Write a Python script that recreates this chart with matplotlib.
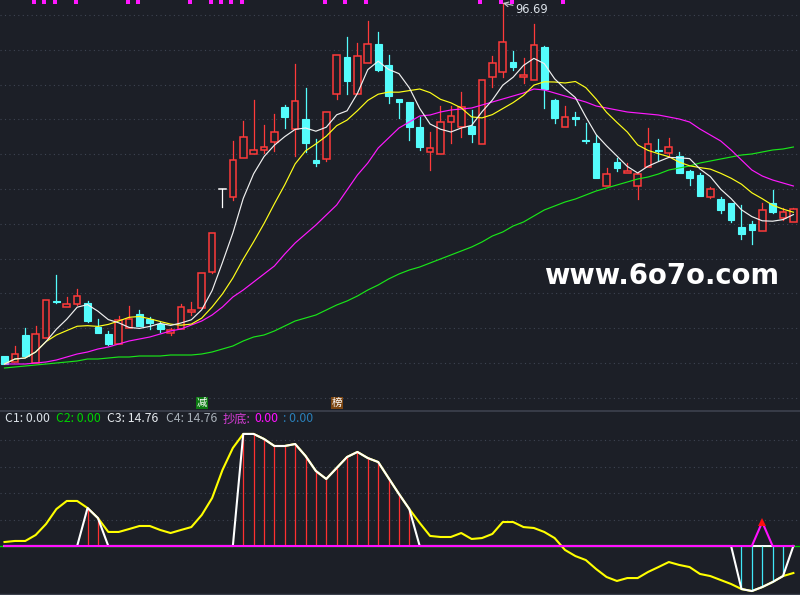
import numpy as np
import pandas as pd
import matplotlib
matplotlib.use("Agg")
import matplotlib.pyplot as plt
from matplotlib.lines import Line2D

# ---------------- data (price units) ----------------
open_ = [26.1, 24.9, 30.3, 24.7, 29.7, 37.1, 35.9, 36.5, 36.7, 31.9,
         30.5, 28.5, 31.7, 34.5, 33.5, 32.5, 30.7, 31.5, 34.9, 35.7,
         42.9, 59.5, 57.9, 65.7, 66.5, 67.3, 68.9, 75.9, 71.5, 73.5,
         65.3, 65.5, 78.5, 85.9, 78.5, 84.7, 88.5, 84.3, 77.5, 76.9,
         71.9, 66.9, 66.5, 72.9, 71.9, 72.1, 68.5, 81.9, 82.9, 84.9,
         81.9, 81.3, 87.9, 77.3, 71.9, 73.9, 69.3, 68.7, 60.1, 64.9,
         62.7, 60.1, 63.9, 67.3, 66.7, 66.1, 63.1, 62.3, 57.9, 57.5,
         56.7, 51.9, 52.5, 51.1, 56.7, 53.7, 52.9]
close = [24.5, 26.5, 26.1, 30.5, 37.3, 36.9, 36.5, 38.1, 33.1, 30.7,
         28.5, 33.3, 33.5, 32.1, 32.7, 31.5, 31.3, 35.9, 35.3, 42.7,
         50.7, 59.5, 65.3, 69.9, 67.3, 67.9, 70.9, 73.9, 77.1, 68.7,
         64.7, 74.9, 86.3, 81.1, 86.1, 88.5, 83.3, 78.1, 76.9, 71.9,
         67.9, 67.7, 72.9, 74.1, 75.9, 70.5, 81.3, 84.7, 88.9, 83.9,
         82.3, 88.3, 79.5, 73.7, 73.9, 73.5, 69.1, 61.7, 62.5, 63.7,
         63.1, 62.5, 68.5, 67.1, 67.9, 62.7, 61.7, 58.1, 59.5, 55.3,
         53.3, 50.5, 51.3, 55.3, 54.9, 54.9, 55.5]
high = [26.1, 28.1, 31.7, 32.1, 37.3, 42.3, 37.9, 39.5, 37.1, 33.5,
        31.1, 34.1, 36.1, 35.3, 33.9, 32.9, 31.7, 36.5, 36.9, 42.7,
        50.7, 59.5, 69.1, 73.1, 77.3, 72.3, 74.5, 76.3, 84.5, 79.7,
        69.5, 74.9, 86.3, 89.9, 88.7, 93.1, 90.9, 86.3, 77.5, 76.9,
        73.9, 70.9, 76.1, 76.1, 78.9, 75.3, 81.3, 86.1, 96.69, 87.1,
        85.7, 92.5, 88.1, 77.5, 76.1, 74.9, 72.7, 70.3, 63.7, 65.7,
        64.7, 62.9, 71.7, 69.5, 69.7, 66.9, 63.3, 62.7, 59.9, 57.9,
        56.7, 56.3, 53.1, 56.7, 59.3, 55.7, 55.7]
low = [24.5, 24.9, 26.1, 24.7, 29.7, 36.7, 35.9, 36.3, 32.9, 30.7,
       28.3, 28.5, 31.7, 32.1, 31.5, 30.9, 30.3, 31.5, 34.3, 35.7,
       42.7, 55.9, 57.3, 65.7, 66.5, 66.7, 67.1, 71.7, 66.1, 66.9,
       64.1, 65.1, 77.5, 78.5, 78.5, 84.7, 83.1, 76.7, 73.7, 69.3,
       67.3, 63.3, 66.5, 68.7, 69.9, 68.9, 68.5, 79.9, 81.9, 83.3,
       80.7, 81.3, 75.7, 72.7, 71.9, 72.3, 68.7, 61.7, 60.1, 63.1,
       62.7, 57.5, 63.9, 65.3, 65.9, 62.7, 60.3, 58.1, 57.7, 54.7,
       52.9, 49.5, 48.5, 51.1, 54.7, 53.3, 52.9]
ma20 = [24.5, 24.5, 24.5, 24.7, 24.9, 25.3, 25.9, 26.5, 26.9, 27.5,
        27.9, 28.5, 29.1, 29.5, 29.9, 30.5, 31.1, 31.5, 32.3, 33.1,
        34.3, 35.9, 37.9, 39.3, 40.9, 42.5, 44.1, 46.5, 48.7, 50.5,
        52.3, 54.3, 56.3, 59.3, 62.3, 64.7, 67.7, 69.7, 71.7, 72.9,
        74.1, 74.3, 74.9, 75.3, 75.5, 75.7, 76.3, 76.9, 77.5, 78.1,
        78.7, 79.5, 79.3, 78.7, 78.1, 77.5, 76.9, 76.1, 75.7, 75.3,
        74.9, 74.7, 74.5, 74.3, 73.9, 73.5, 72.9, 71.5, 70.3, 69.1,
        67.3, 65.3, 63.3, 62.1, 61.3, 60.7, 60.1]
ma60 = [23.7, 23.9, 24.1, 24.3, 24.5, 24.7, 24.9, 25.1, 25.5, 25.5,
        25.7, 25.9, 25.9, 26.1, 26.1, 26.1, 26.3, 26.3, 26.3, 26.5,
        26.9, 27.5, 28.1, 29.1, 29.9, 30.3, 31.1, 32.1, 33.1, 33.7,
        34.3, 35.3, 36.3, 37.1, 38.1, 39.3, 40.3, 41.5, 42.5, 43.3,
        43.9, 44.7, 45.5, 46.3, 47.1, 47.9, 48.9, 50.1, 50.9, 52.1,
        52.9, 54.1, 55.3, 56.1, 56.9, 57.5, 58.3, 59.1, 59.7, 60.3,
        60.9, 61.5, 61.9, 62.5, 63.3, 63.7, 64.1, 64.7, 65.1, 65.5,
        65.9, 66.3, 66.5, 66.9, 67.3, 67.5, 67.9]
signal_top = [3, 4, 5, 7, 12, 13, 18, 20, 21, 22, 23, 31, 33, 35, 46, 48, 49, 54]
tag_jian = 19
tag_bang = 32

# lower indicator
c4 = [3.0, 3.8, 3.8, 8.3, 16.6, 27.9, 34.0, 34.0, 28.7, 21.1,
      10.6, 10.6, 12.8, 15.1, 15.1, 12.1, 9.8, 12.1, 14.3, 23.4,
      36.2, 57.4, 74.0, 84.6, 84.6, 80.8, 75.5, 75.5, 77.0, 68.0,
      56.6, 50.6, 58.9, 67.2, 71.0, 66.4, 63.4, 51.3, 39.3, 27.9,
      17.4, 7.6, 6.8, 6.8, 9.8, 5.3, 6.0, 9.1, 18.1, 18.1,
      14.3, 13.6, 10.6, 6.0, -3.0, -7.6, -10.6, -17.4, -23.4, -26.4,
      -24.2, -24.2, -19.6, -15.9, -12.1, -14.3, -15.9, -21.1, -22.7, -25.7,
      -28.7, -32.5, -34.0, -31.0, -27.2, -22.7, -20.4]
c3_on = [8, 9] + list(range(23, 40)) + list(range(71, 76))
chaodi_idx = 73
chaodi_val = 18.1

# ---------------- layout ----------------
W, H = 800, 595
BG = "#1c1f27"
GRID = "#3e4452"
n = len(close)
idx = np.arange(n)
x0_px, step_px = 4.5, 10.38
xlim = (-x0_px / step_px, (W - x0_px) / step_px)

fig = plt.figure(figsize=(W / 100, H / 100), dpi=100, facecolor=BG)
SEP = 411
ax = fig.add_axes([0, 1 - SEP / H, 1, SEP / H], facecolor=BG)
ax2 = fig.add_axes([0, 0, 1, (H - SEP) / H], facecolor=BG)
for a in (ax, ax2):
    a.set_xlim(*xlim)
    for s in a.spines.values():
        s.set_visible(False)
    a.set_xticks([])
    a.set_yticks([])

ptop = 97.3
pscale = 0.2
ax.set_ylim(ptop - pscale * SEP, ptop)
for k in range(12):
    ax.axhline(ptop - pscale * (15 + 34.8 * k), color=GRID, lw=0.8,
               ls=(0, (1, 3)), zorder=0)

# candles
O = np.array(open_); C = np.array(close); Hh = np.array(high); L = np.array(low)
RED = "#ff3a3a"; CYAN = "#54fcfc"; WHITE = "#ffffff"
bw = 0.64
for i in range(n):
    top, bot = max(O[i], C[i]), min(O[i], C[i])
    if C[i] > O[i]:
        col = RED
        ax.bar(i, top - bot, bottom=bot, width=bw, facecolor=BG,
               edgecolor=col, linewidth=1.1, zorder=3)
    elif C[i] < O[i]:
        col = CYAN
        ax.bar(i, top - bot, bottom=bot, width=bw, facecolor=col,
               edgecolor=col, linewidth=0.8, zorder=3)
    else:
        col = WHITE
        ax.plot([i - bw / 2, i + bw / 2], [top, top], color=col, lw=1.1, zorder=3)
    if Hh[i] > top:
        ax.plot([i, i], [top, Hh[i]], color=col, lw=0.9, zorder=2)
    if L[i] < bot:
        ax.plot([i, i], [L[i], bot], color=col, lw=0.9, zorder=2)

ma5 = pd.Series(C).rolling(5, min_periods=1).mean()
ma10 = pd.Series(C).rolling(10, min_periods=1).mean()
ax.plot(idx, ma60, color="#19e619", lw=0.85, zorder=4)
ax.plot(idx, ma20, color="#ff19ff", lw=0.85, zorder=4)
ax.plot(idx, ma10, color="#ffff19", lw=0.85, zorder=4)
ax.plot(idx, ma5, color="#f0f0f0", lw=0.85, zorder=4)

# top signal markers
ax.plot(np.array(signal_top) - 0.15, [1 - 1.5 / SEP] * len(signal_top), "s",
        color="#ff19ff", ms=2.6, mew=0, transform=ax.get_xaxis_transform(),
        zorder=5, clip_on=False)

# max annotation
imax = int(np.argmax(Hh))
ax.annotate(f"{Hh[imax]:.2f}", xy=(imax, Hh[imax]),
            xytext=(imax + 1.25, Hh[imax] - 1.3), color="#dde3ea", fontsize=8.3,
            va="center", ha="left",
            arrowprops=dict(arrowstyle="->", color="#c8ccd2", lw=0.8,
                            shrinkA=0, shrinkB=0), zorder=6)

# tags
CJK = ["Noto Sans CJK SC", "DejaVu Sans"]
ytag = ptop - pscale * 403
ax.text(tag_jian, ytag, "减", color="white", fontsize=7.5, ha="center", va="center",
        family=CJK, bbox=dict(boxstyle="square,pad=0.08", fc="#0c7a12", ec="none"),
        zorder=6)
ax.text(tag_bang, ytag, "榜", color="white", fontsize=7.5, ha="center", va="center",
        family=CJK, bbox=dict(boxstyle="square,pad=0.08", fc="#7c4612", ec="none"),
        zorder=6)

# watermark
fig.text(661.5 / W, 1 - 276 / H, "www.6o7o.com", color="white", fontsize=19.8,
         fontweight="bold", ha="center", va="center", family="DejaVu Sans")

# separator lines
fig.add_artist(Line2D([0, 1], [1 - SEP / H] * 2, color="#3a3f4b", lw=1.3))
fig.add_artist(Line2D([0, 1], [1 - 594 / H] * 2, color="#3a3f4b", lw=1.0))

# ---------------- lower panel ----------------
vscale = 0.755
ax2.set_ylim(-vscale * (H - 546), vscale * (546 - SEP))
for g in (20, 40, 60, 80):
    ax2.axhline(g, color=GRID, lw=0.8, ls=(0, (1, 3)), zorder=0)

c4a = np.array(c4)
mask = np.zeros(n, bool)
mask[c3_on] = True
c3 = np.where(mask, c4a, 0.0)
chaodi = np.zeros(n)
chaodi[chaodi_idx] = chaodi_val

ax2.axhline(0, color="#00c800", lw=1.0, zorder=1)
ax2.plot(idx, np.zeros(n), color="white", lw=1.4, zorder=1)
ax2.plot(idx, c4a, color="#ffff00", lw=1.5, zorder=2)
pos = c3 > 0
neg = c3 < 0
ax2.vlines(idx[pos], 0, c3[pos], color="#ff3030", lw=0.9, zorder=3)
ax2.vlines(idx[neg], 0, c3[neg], color="#40e8f8", lw=0.9, zorder=3)
ax2.plot(idx, c3, color="white", lw=1.5, zorder=4)
ax2.plot(idx, chaodi, color="#ff10ff", lw=1.5, zorder=5)
ax2.plot([chaodi_idx], [chaodi_val], "^", color="#ff1010", ms=6, zorder=6,
         markeredgewidth=0)

# header labels
ty = 1 - 419 / H
labels = [(5, "C1: 0.00", "#dce3ea"), (56, "C2: 0.00", "#00d200"),
          (107, "C3: 14.76", "#e6eaee"), (166, "C4: 14.76", "#a8b0b8"),
          (223, "抄底:", "#d23cd2"), (254, "0.00", "#ff10ff"),
          (283, ": 0.00", "#2a7fb8")]
for px, txt, col in labels:
    fig.text(px / W, ty, txt, color=col, fontsize=8.8, ha="left", va="center",
             family=CJK)

fig.savefig("out.png", dpi=100, facecolor=BG)
